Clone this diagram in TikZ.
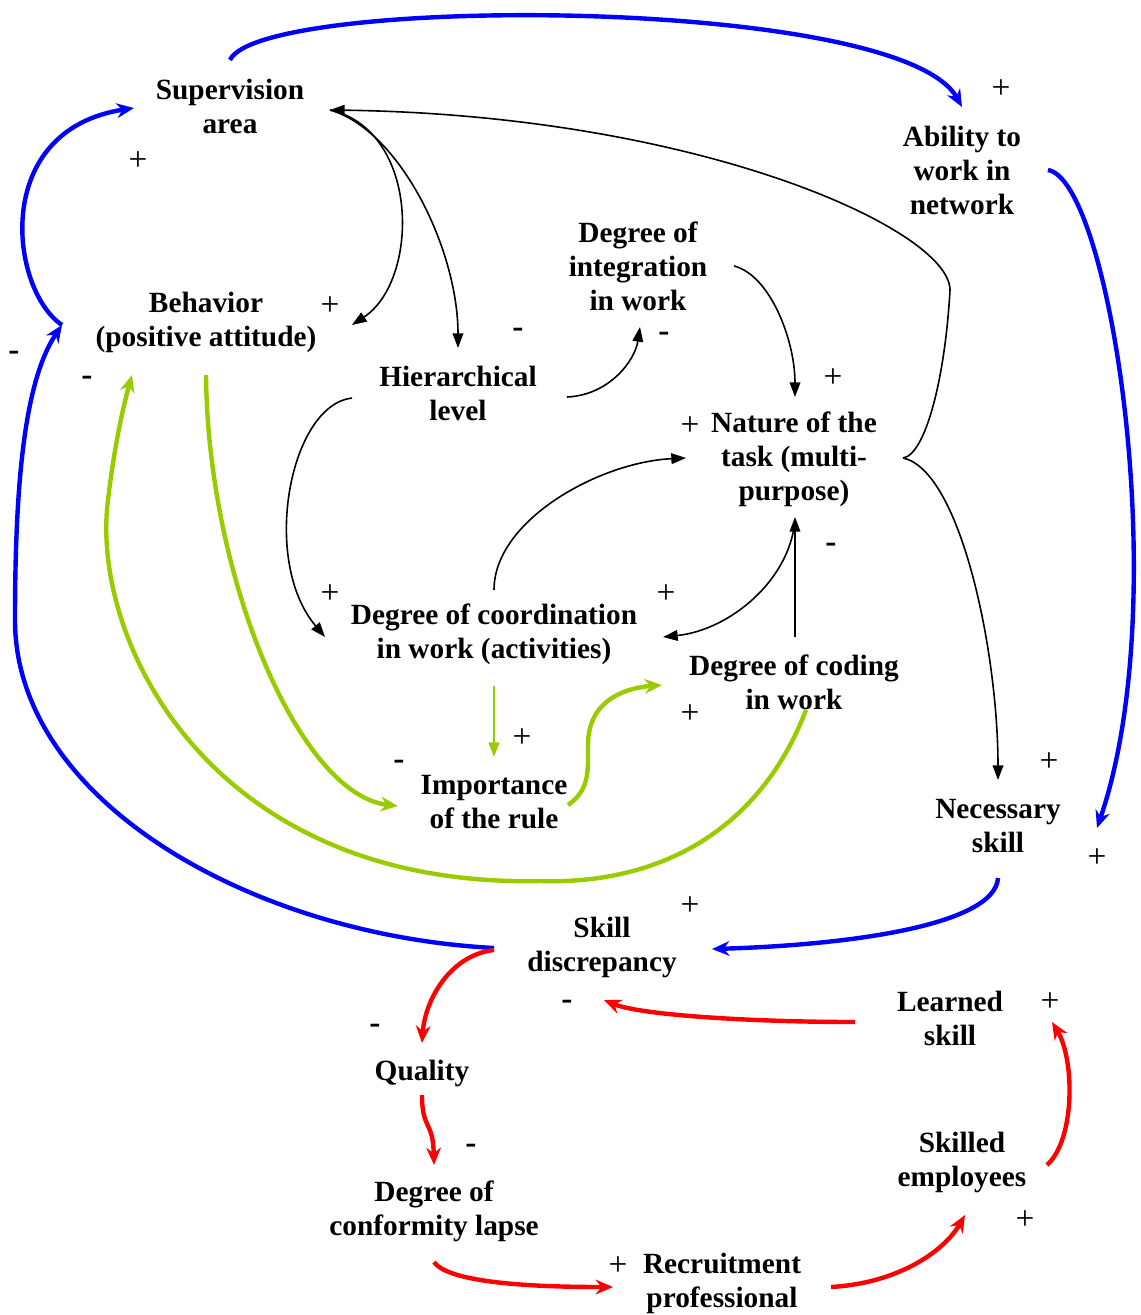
\documentclass[tikz,border=0pt]{standalone}
\usepackage{fontspec}
\setmainfont{Liberation Serif}
\usetikzlibrary{arrows.meta,calc}
\definecolor{cblue}{HTML}{0000FF}
\definecolor{cred}{HTML}{FF0000}
\definecolor{cgreen}{HTML}{99CC00}
\begin{document}
\begin{tikzpicture}[x=0.75pt,y=-0.75pt,
  lab/.style={font=\fontsize{22}{25.5}\selectfont\bfseries, align=center, inner sep=0pt},
  sgn/.style={font=\fontsize{25}{25.5}\selectfont, inner sep=0pt},
  blk/.style={draw=black, line width=1.2pt, -{Triangle[length=11pt,width=8pt]}},
  blu/.style={draw=cblue, line width=3.3pt, -{Stealth[length=13pt,width=11pt]}},
  red/.style={draw=cred, line width=3.3pt, -{Stealth[length=13pt,width=11pt]}},
  grn/.style={draw=cgreen, line width=3.3pt, -{Stealth[length=13pt,width=11pt]}},
  grnthin/.style={draw=cgreen, line width=1.6pt, -{Triangle[length=11pt,width=8pt]}}
]
\useasboundingbox (0,0) rectangle (1141,1315);

% nodes
\node[lab] (sup) at (230,106) {Supervision\\area};
\node[lab] (abl) at (962,170) {Ability to\\work in\\network};
\node[lab] (beh) at (206,322) {Behavior\\(positive attitude)};
\node[lab] (integ) at (638,266) {Degree of\\integration\\in work};
\node[lab] (hier) at (458,393) {Hierarchical\\level};
\node[lab] (nat) at (794,459) {Nature of the\\task (multi-\\purpose)};
\node[lab] (coord) at (494,634) {Degree of coordination\\in work (activities)};
\node[lab] (cod) at (794,682) {Degree of coding\\in work};
\node[lab] (imp) at (494,802) {Importance\\of the rule};
\node[lab] (nec) at (998,826) {Necessary\\skill};
\node[lab] (disc) at (602,947) {Skill\\discrepancy};
\node[lab] (learn) at (950,1018) {Learned\\skill};
\node[lab] (qual) at (422,1073) {Quality};
\node[lab] (skl) at (962,1162) {Skilled\\employees};
\node[lab] (conf) at (434,1211) {Degree of\\conformity lapse};
\node[lab] (rec) at (722,1283) {Recruitment\\professional};

% signs
\node[sgn] (s1) at (1001,89) {+};
\node[sgn] (s2) at (138,161) {+};
\node[sgn] (s3) at (330,306) {+};
\node[sgn] (s4) at (14,356) {\bfseries -};
\node[sgn] (s5) at (87,381) {\bfseries -};
\node[sgn] (s6) at (518,333) {\bfseries -};
\node[sgn] (s7) at (664,337) {\bfseries -};
\node[sgn] (s8) at (833,378) {+};
\node[sgn] (s9) at (690,426) {+};
\node[sgn] (s10) at (831,548) {\bfseries -};
\node[sgn] (s11) at (330,594) {+};
\node[sgn] (s12) at (666,594) {+};
\node[sgn] (s13) at (690,714) {+};
\node[sgn] (s14) at (522,738) {+};
\node[sgn] (s15) at (399,765) {\bfseries -};
\node[sgn] (s16) at (1049,762) {+};
\node[sgn] (s17) at (1097,858) {+};
\node[sgn] (s18) at (690,906) {+};
\node[sgn] (s19) at (567,1005) {\bfseries -};
\node[sgn] (s20) at (1050,1002) {+};
\node[sgn] (s21) at (375,1029) {\bfseries -};
\node[sgn] (s22) at (471,1149) {\bfseries -};
\node[sgn] (s23) at (1025,1220) {+};
\node[sgn] (s24) at (618,1266) {+};

% blue connectors
\draw[blu] ($(sup)+(0,-46)$) .. controls +(30,-65) and +(-62,-112) .. ($(abl)+(0,-63)$);
\draw[blu] ($(abl)+(86,0)$) .. controls +(62,10) and +(78,-228) .. ($(nec)+(99,2)$);
\draw[blu] ($(nec)+(0,52)$) .. controls +(-3,47) and +(138,-4) .. ($(disc)+(110,2)$);
\draw[blu] ($(disc)+(-108,1)$) .. controls (250,935) and (15,800) .. (15,620)
   .. controls (15,480) and (25,380) .. ($(beh)+(-144,3)$);
\draw[blu] ($(beh)+(-144,3)$) .. controls +(-52,-35) and +(-144,22) .. ($(sup)+(-96,2)$);

% green connectors
\draw[grn] ($(beh)+(0,53)$) .. controls +(2,205) and +(-98,-11) .. ($(imp)+(-96,4)$);
\draw[grn] ($(cod)+(12,28)$) .. controls (760,830) and (660,885) .. (540,881)
   .. controls (210,888) and (90,640) .. (108,500)
   .. controls (115,440) and (125,400) .. ($(beh)+(-74,53)$);
\draw[grnthin] ($(coord)+(0,52)$) -- ($(imp)+(0,-45)$);
\draw[grn] ($(imp)+(74,3)$) .. controls (590,790) and (588,770) .. (588,745)
   .. controls (588,700) and (625,688) .. ($(cod)+(-132,3)$);

% black connectors
\draw[blk] ($(sup)+(100,4)$) .. controls +(90,20) and +(68,-45) .. ($(beh)+(146,3)$);
\draw[blk] ($(sup)+(100,4)$) .. controls +(70,20) and +(0,-98) .. ($(hier)+(0,-45)$);
\draw[blk] ($(nat)+(109,-1)$) .. controls (925,455) and (945,380) .. (950,290)
   .. controls (950,230) and (700,115) .. ($(sup)+(100,4)$);
\draw[blk] ($(nat)+(109,-1)$) .. controls +(57,12) and +(0,-130) .. ($(nec)+(0,-46)$);
\draw[blk] ($(hier)+(109,4)$) .. controls +(43,-2) and +(-5,33) .. ($(integ)+(2,61)$);
\draw[blk] ($(hier)+(-106,5)$) .. controls +(-62,7) and +(-65,-77) .. ($(coord)+(-169,3)$);
\draw[blk] ($(integ)+(96,0)$) .. controls +(36,9) and +(0,-57) .. ($(nat)+(1,-62)$);
\draw[blk] ($(coord)+(0,-44)$) .. controls +(0,-70) and +(-86,4) .. ($(nat)+(-108,-1)$);
\draw[blk] ($(cod)+(1,-45)$) -- ($(nat)+(1,58)$);
\draw[blk] ($(nat)+(1,61)$) .. controls +(-5,60) and +(67,-7) .. ($(coord)+(169,3)$);

% red connectors
\draw[red] ($(disc)+(-108,3)$) .. controls +(-44,5) and +(3,-43) .. ($(qual)+(0,-30)$);
\draw[red] ($(qual)+(0,22)$) .. controls +(0,35) and +(-1,-45) .. ($(conf)+(0,-46)$);
\draw[red] ($(conf)+(0,51)$) .. controls +(16,23) and +(-63,0) .. ($(rec)+(-109,4)$);
\draw[red] ($(rec)+(109,4)$) .. controls +(69,-4) and +(-20,35) .. ($(skl)+(3,53)$);
\draw[red] ($(skl)+(85,3)$) .. controls +(28,-25) and +(23,38) .. ($(learn)+(102,4)$);
\draw[red] ($(learn)+(-95,4)$) .. controls +(-105,0) and +(36,15) .. ($(disc)+(2,53)$);
\end{tikzpicture}
\end{document}
